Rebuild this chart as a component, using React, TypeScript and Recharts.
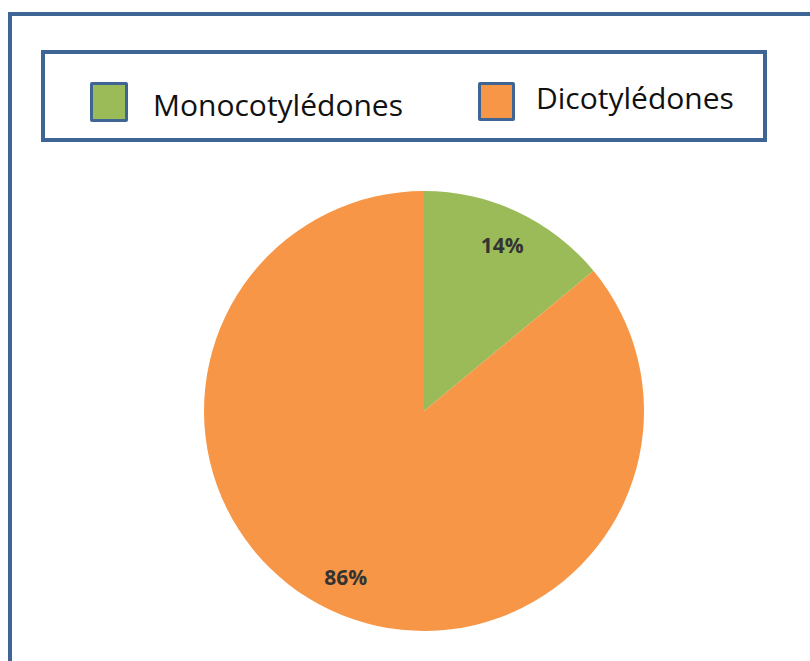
import React from 'react';
import { PieChart, Pie, Cell, Legend } from 'recharts';

const categories = ['Monocotylédones', 'Dicotylédones'];
const values = [14, 86];
const colors = ['#9BBB59', '#F79646'];

const data = categories.map((name, i) => ({ name, value: values[i] }));

const BORDER = '#3E6594';
const FONT = '"Open Sans", sans-serif';

const itemLayout = [
  { sqLeft: 90, sqTop: 82, sqW: 38, sqH: 40, textLeft: 153, baseline: 117 },
  { sqLeft: 478, sqTop: 82, sqW: 37, sqH: 39, textLeft: 536, baseline: 110 },
];

const BOX_LEFT = 41;
const BOX_TOP = 50;
const BOX_BW = 4;

const LegendContent = (props: any) => {
  const payload = props.payload || [];
  return (
    <div
      style={{
        position: 'relative',
        width: 726,
        height: 92,
        boxSizing: 'border-box',
        border: `${BOX_BW}px solid ${BORDER}`,
        background: '#fff',
      }}
    >
      {payload.map((entry: any) => {
        const idx = categories.indexOf(entry.value);
        const l = itemLayout[idx];
        return (
          <React.Fragment key={entry.value}>
            <div
              style={{
                position: 'absolute',
                left: l.sqLeft - BOX_LEFT - BOX_BW,
                top: l.sqTop - BOX_TOP - BOX_BW,
                width: l.sqW,
                height: l.sqH,
                boxSizing: 'border-box',
                border: `3px solid ${BORDER}`,
                borderRadius: 2,
                background: colors[idx],
              }}
            />
            <div
              style={{
                position: 'absolute',
                left: l.textLeft - BOX_LEFT - BOX_BW,
                top: l.baseline - 26.6 - BOX_TOP - BOX_BW,
                fontFamily: FONT,
                fontSize: 30,
                lineHeight: '30px',
                color: '#111',
                whiteSpace: 'nowrap',
              }}
            >
              {entry.value}
            </div>
          </React.Fragment>
        );
      })}
    </div>
  );
};

const RADIAN = Math.PI / 180;
const renderLabel = (props: any) => {
  const { cx, cy, midAngle, percent } = props;
  const r = 184;
  const x = cx + r * Math.cos(-midAngle * RADIAN);
  const y = cy + r * Math.sin(-midAngle * RADIAN);
  return (
    <text
      x={x}
      y={y}
      fill="#333"
      textAnchor="middle"
      dominantBaseline="central"
      fontFamily={FONT}
      fontWeight="bold"
      fontSize={21}
    >
      {`${Math.round(percent * 100)}%`}
    </text>
  );
};

export default function App() {
  return (
    <div
      style={{
        position: 'absolute',
        left: 0,
        top: 0,
        width: 810,
        height: 661,
        overflow: 'hidden',
        background: '#fff',
      }}
    >
      <div
        style={{
          position: 'absolute',
          left: 8,
          top: 12,
          width: 900,
          height: 800,
          boxSizing: 'border-box',
          border: `4px solid ${BORDER}`,
        }}
      />
      <div style={{ position: 'absolute', left: 0, top: 0 }}>
        <PieChart width={810} height={661} margin={{ top: 0, right: 0, bottom: 0, left: 0 }}>
          <Pie
            data={data}
            dataKey="value"
            nameKey="name"
            cx={424}
            cy={411}
            outerRadius={220}
            startAngle={90}
            endAngle={-270}
            stroke="none"
            label={renderLabel}
            labelLine={false}
            isAnimationActive={false}
          >
            {data.map((d, i) => (
              <Cell key={d.name} fill={colors[i]} />
            ))}
          </Pie>
          <Legend
            content={<LegendContent />}
            wrapperStyle={{ position: 'absolute', left: BOX_LEFT, top: BOX_TOP, width: 726, height: 92 }}
          />
        </PieChart>
      </div>
    </div>
  );
}
